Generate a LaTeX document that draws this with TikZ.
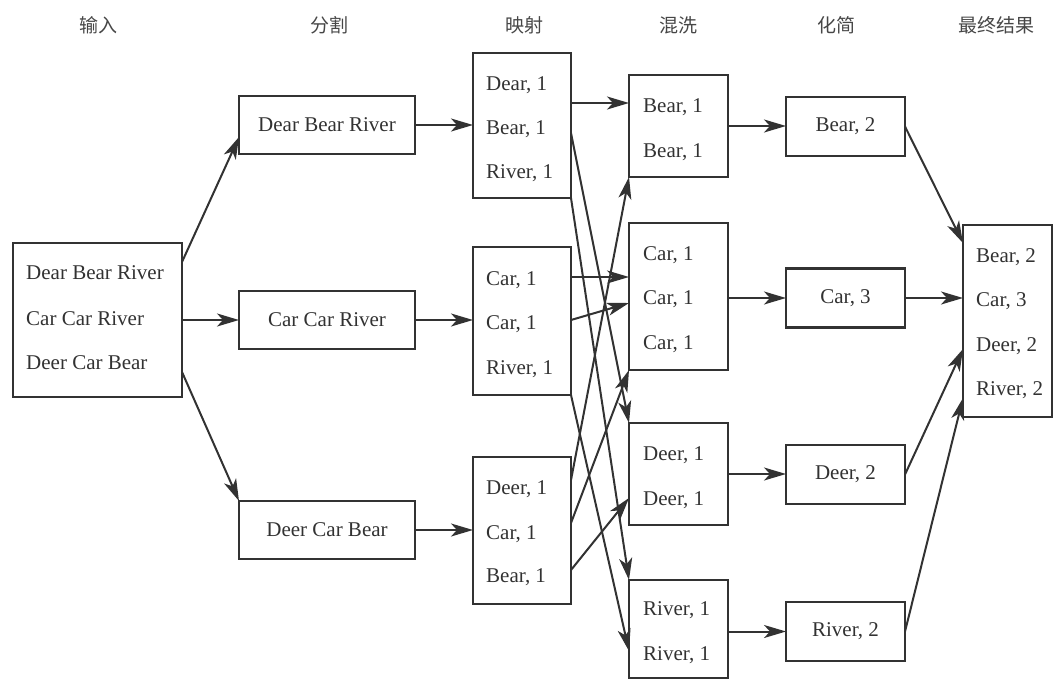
\documentclass[tikz,border=0pt]{standalone}
\usepackage{fontspec}
\setmainfont{Liberation Serif}
\newfontfamily\cjk{Noto Sans CJK SC}
\usetikzlibrary{arrows.meta,calc}
\definecolor{ink}{RGB}{50,50,50}
\definecolor{hdr}{RGB}{70,70,70}
\begin{document}
\begin{tikzpicture}[x=1pt,y=-1pt,
  box/.style={draw=ink,line width=2.2pt,inner sep=0pt,outer sep=0pt},
  txt/.style={anchor=base west,inner sep=0pt,text=ink,font=\fontsize{21}{24}\selectfont},
  ctxt/.style={inner sep=0pt,text=ink,font=\fontsize{21}{24}\selectfont},
  head/.style={inner sep=0pt,text=hdr,font=\cjk\fontsize{19}{22}\selectfont},
  arr/.style={draw=ink,line width=2pt,-{Stealth[length=22pt,width=13pt,inset=6pt]}}]
\useasboundingbox (0,0) rectangle (1055,680);
% headers
\node[head] (h1) at (98,25) {输入};
\node[head] (h2) at (329,25) {分割};
\node[head] (h3) at (524,25) {映射};
\node[head] (h4) at (678,25) {混洗};
\node[head] (h5) at (836,25) {化简};
\node[head] (h6) at (996,25) {最终结果};
% boxes
\node[box,minimum width=169pt,minimum height=154pt] (in) at (97.5,320) {};
\node[box,minimum width=176pt,minimum height=58pt] (s1) at (327,125) {};
\node[box,minimum width=176pt,minimum height=58pt] (s2) at (327,320) {};
\node[box,minimum width=176pt,minimum height=58pt] (s3) at (327,530) {};
\node[box,minimum width=98pt,minimum height=145pt] (m1) at (522,125.5) {};
\node[box,minimum width=98pt,minimum height=148pt] (m2) at (522,321) {};
\node[box,minimum width=98pt,minimum height=147pt] (m3) at (522,530.5) {};
\node[box,minimum width=99pt,minimum height=102pt] (sh1) at (678.5,126) {};
\node[box,minimum width=99pt,minimum height=147pt] (sh2) at (678.5,296.5) {};
\node[box,minimum width=99pt,minimum height=102pt] (sh3) at (678.5,474) {};
\node[box,minimum width=99pt,minimum height=98pt] (sh4) at (678.5,629) {};
\node[box,minimum width=119pt,minimum height=59pt] (r1) at (845.5,126.5) {};
\node[box,minimum width=119pt,minimum height=59pt] (r2) at (845.5,298) {};
\node[box,minimum width=119pt,minimum height=59pt] (r3) at (845.5,474.5) {};
\node[box,minimum width=119pt,minimum height=59pt] (r4) at (845.5,631.5) {};
\node[box,minimum width=89pt,minimum height=192pt] (fin) at (1007.5,321) {};
% texts: input
\node[txt] (t1) at (26,279) {Dear Bear River};
\node[txt] (t2) at (26,325) {Car Car River};
\node[txt] (t3) at (26,369) {Deer Car Bear};
% split
\node[ctxt] (t4) at (s1) {Dear Bear River};
\node[ctxt] (t5) at (s2) {Car Car River};
\node[ctxt] (t6) at (s3) {Deer Car Bear};
% map
\node[txt] (t7) at (486,90) {Dear, 1};
\node[txt] (t8) at (486,134) {Bear, 1};
\node[txt] (t9) at (486,178) {River, 1};
\node[txt] (t10) at (486,285) {Car, 1};
\node[txt] (t11) at (486,329) {Car, 1};
\node[txt] (t12) at (486,374) {River, 1};
\node[txt] (t13) at (486,494) {Deer, 1};
\node[txt] (t14) at (486,539) {Car, 1};
\node[txt] (t15) at (486,582) {Bear, 1};
% shuffle
\node[txt] (t16) at (643,112) {Bear, 1};
\node[txt] (t17) at (643,157) {Bear, 1};
\node[txt] (t18) at (643,260) {Car, 1};
\node[txt] (t19) at (643,304) {Car, 1};
\node[txt] (t20) at (643,349) {Car, 1};
\node[txt] (t21) at (643,460) {Deer, 1};
\node[txt] (t22) at (643,505) {Deer, 1};
\node[txt] (t23) at (643,615) {River, 1};
\node[txt] (t24) at (643,660) {River, 1};
% reduce
\node[ctxt] (t25) at (r1) {Bear, 2};
\node[ctxt] (t26) at (r2) {Car, 3};
\node[ctxt] (t27) at (r3) {Deer, 2};
\node[ctxt] (t28) at (r4) {River, 2};
% final
\node[txt] (t29) at (976,262) {Bear, 2};
\node[txt] (t30) at (976,306) {Car, 3};
\node[txt] (t31) at (976,351) {Deer, 2};
\node[txt] (t32) at (976,395) {River, 2};
% connectors: input -> split
\draw[arr] ($(in.north east)+(0,19)$) -- ($(s1.west)+(0,12)$);
\draw[arr] (in.east) -- (s2.west);
\draw[arr] ($(in.south east)+(0,-25)$) -- (s3.north west);
% split -> map
\draw[arr] (s1.east) -- (s1.east -| m1.west);
\draw[arr] (s2.east) -- (s2.east -| m2.west);
\draw[arr] (s3.east) -- (s3.east -| m3.west);
% map -> shuffle
\draw[arr] ($(m1.north east)+(0,50)$) -- ($(sh1.north west)+(0,28)$);
\draw[arr] ($(m1.north east)+(0,80)$) -- (sh3.north west);
\draw[arr] (m1.south east) -- (sh4.north west);
\draw[arr] ($(m2.north east)+(0,30)$) -- ($(sh2.north west)+(0,54)$);
\draw[arr] ($(m2.north east)+(0,73)$) -- ($(sh2.north west)+(0,80)$);
\draw[arr] (m2.south east) -- ($(sh4.north west)+(0,71)$);
\draw[arr] ($(m3.north east)+(0,23)$) -- (sh1.south west);
\draw[arr] ($(m3.north east)+(0,66)$) -- (sh2.south west);
\draw[arr] ($(m3.north east)+(0,113)$) -- ($(sh3.north west)+(0,75)$);
% shuffle -> reduce
\draw[arr] (sh1.east) -- (sh1.east -| r1.west);
\draw[arr] (r2.west -| sh2.east) -- (r2.west);
\draw[arr] (sh3.east) -- (sh3.east -| r3.west);
\draw[arr] (r4.west -| sh4.east) -- (r4.west);
% reduce -> final
\draw[arr] (r1.east) -- ($(fin.north west)+(0,18)$);
\draw[arr] (r2.east) -- (r2.east -| fin.west);
\draw[arr] (r3.east) -- ($(fin.north west)+(0,124)$);
\draw[arr] (r4.east) -- ($(fin.north west)+(0,173)$);
\end{tikzpicture}
\end{document}
